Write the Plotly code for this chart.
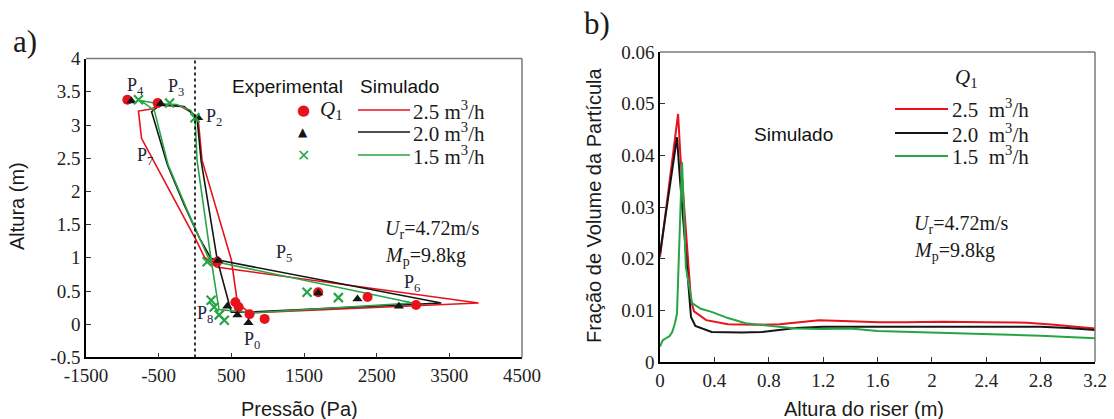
import plotly.graph_objects as go

# ---------------- Panel a: pressure profile ----------------
# Simulated loops (Pa, m)
sim_red_p = [42, 97, 500, 584, 750, 3903, 292, 130, 14, -736, -778, -600, -514, -200, -60, 42]
sim_red_h = [3.11, 2.47, 0.97, 0.32, 0.17, 0.32, 0.86, 1.01, 1.27, 2.80, 3.21, 3.24, 3.30, 3.28, 3.20, 3.11]
sim_black_p = [28, 83, 306, 500, 681, 3389, 300, 220, 60, -150, -380, -520, -597, -472, -150, 28]
sim_black_h = [3.11, 2.47, 0.97, 0.18, 0.18, 0.32, 0.97, 0.99, 1.30, 1.80, 2.40, 2.90, 3.20, 3.31, 3.28, 3.11]
sim_green_p = [0, 28, 222, 330, 792, 3000, 200, -100, -370, -480, -560, -750, -500, -250, -60, 0]
sim_green_h = [3.11, 2.47, 0.97, 0.22, 0.17, 0.32, 0.96, 1.70, 2.40, 2.90, 3.22, 3.37, 3.32, 3.31, 3.22, 3.11]

# Experimental points
exp_red_p = [-931, -514, 306, 556, 600, 750, 958, 1695, 2375, 3042]
exp_red_h = [3.38, 3.33, 0.94, 0.33, 0.26, 0.15, 0.08, 0.48, 0.41, 0.29]
exp_black_p = [-875, -472, 42, 320, 445, 584, 736, 1695, 2236, 2806]
exp_black_h = [3.36, 3.32, 3.11, 0.96, 0.27, 0.14, 0.02, 0.47, 0.38, 0.27]
exp_green_p = [-778, -350, 0, 167, 222, 264, 333, 403, 1542, 1973]
exp_green_h = [3.38, 3.33, 3.11, 0.94, 0.36, 0.26, 0.14, 0.06, 0.48, 0.40]

# Point labels
pt_names = ["4", "3", "2", "7", "5", "6", "8", "0"]
pt_p = [-825, -257, 256, -689, 1229, 2985, 135, 783]
pt_h = [3.58, 3.57, 3.11, 2.52, 1.07, 0.62, 0.15, -0.24]

a_xticks = [-1500, -500, 500, 1500, 2500, 3500, 4500]
a_yticks = [-0.5, 0, 0.5, 1, 1.5, 2, 2.5, 3, 3.5, 4]
a_ytext = ["-0.5", "0", "0.5", "1", "1.5", "2", "2.5", "3", "3.5", "4"]

# ---------------- Panel b: particle volume fraction ----------------
b_red_x = [0, 0.133, 0.15, 0.228, 0.25, 0.34, 0.5, 0.7, 0.88, 1.0, 1.17, 1.4, 1.61, 1.8, 2.08, 2.4, 2.7, 2.9, 3.05, 3.2]
b_red_y = [0.0203, 0.048, 0.040, 0.012, 0.0098, 0.0081, 0.0073, 0.0072, 0.0073, 0.0076, 0.0081, 0.0079, 0.0077, 0.0077, 0.0078, 0.0077, 0.0076, 0.0072, 0.0069, 0.0065]
b_black_x = [0, 0.125, 0.145, 0.228, 0.26, 0.38, 0.6, 0.75, 1.0, 1.2, 1.6, 2.0, 2.4, 2.8, 3.0, 3.2]
b_black_y = [0.021, 0.0435, 0.036, 0.0087, 0.007, 0.0058, 0.0057, 0.0058, 0.0066, 0.0068, 0.0068, 0.0068, 0.0068, 0.0068, 0.0066, 0.0062]
b_green_x = [0, 0.02, 0.044, 0.07, 0.09, 0.11, 0.125, 0.14, 0.162, 0.175, 0.19, 0.236, 0.3, 0.38, 0.5, 0.63, 0.88, 1.0, 1.2, 1.4, 1.6, 2.0, 2.4, 2.8, 3.2]
b_green_y = [0.003, 0.0042, 0.0046, 0.005, 0.0058, 0.0075, 0.0094, 0.02, 0.0387, 0.03, 0.0184, 0.0114, 0.0103, 0.0097, 0.0085, 0.0075, 0.0068, 0.0065, 0.0064, 0.0065, 0.006, 0.0057, 0.0055, 0.0051, 0.0046]

b_xticks = [0, 0.4, 0.8, 1.2, 1.6, 2.0, 2.4, 2.8, 3.2]
b_xtext = ["0", "0.4", "0.8", "1.2", "1.6", "2", "2.4", "2.8", "3.2"]
b_yticks = [0, 0.01, 0.02, 0.03, 0.04, 0.05, 0.06]
b_ytext = ["0", "0.01", "0.02", "0.03", "0.04", "0.05", "0.06"]

flow_labels = ["2.5", "2.0", "1.5"]

RED = "#e8121c"
BLACK = "#151515"
GREEN = "#27a546"
SERIF = "Liberation Serif"
SANS = "Liberation Sans"
W, H = 1114, 419


def px(x):
    return x / W


def py(y):
    return 1 - y / H


fig = go.Figure()

for xs, ys, c in [(sim_red_p, sim_red_h, RED), (sim_black_p, sim_black_h, BLACK), (sim_green_p, sim_green_h, GREEN)]:
    fig.add_trace(go.Scatter(x=xs, y=ys, mode="lines", line=dict(color=c, width=1.6),
                             xaxis="x", yaxis="y", showlegend=False, hoverinfo="skip"))

fig.add_trace(go.Scatter(x=exp_red_p, y=exp_red_h, mode="markers",
                         marker=dict(symbol="circle", size=10, color=RED),
                         xaxis="x", yaxis="y", showlegend=False))
fig.add_trace(go.Scatter(x=exp_black_p, y=exp_black_h, mode="markers",
                         marker=dict(symbol="triangle-up", size=9, color=BLACK),
                         xaxis="x", yaxis="y", showlegend=False))
fig.add_trace(go.Scatter(x=exp_green_p, y=exp_green_h, mode="markers",
                         marker=dict(symbol="x-thin", size=9, color=GREEN, line=dict(color=GREEN, width=2.2)),
                         xaxis="x", yaxis="y", showlegend=False))

for xs, ys, c in [(b_red_x, b_red_y, RED), (b_black_x, b_black_y, BLACK), (b_green_x, b_green_y, GREEN)]:
    fig.add_trace(go.Scatter(x=xs, y=ys, mode="lines", line=dict(color=c, width=2),
                             xaxis="x2", yaxis="y2", showlegend=False, hoverinfo="skip"))

tickfont = dict(family=SERIF, size=19, color="#222222")
axis_common = dict(showgrid=False, zeroline=False, ticks="inside", ticklen=5, tickwidth=1.2,
                   tickcolor="#333333", showline=True, linecolor="black", linewidth=1.6,
                   mirror=False, tickfont=tickfont, automargin=False)

fig.update_layout(
    template="none",
    width=W, height=H, margin=dict(l=0, r=0, t=0, b=0, pad=0),
    paper_bgcolor="white", plot_bgcolor="white",
    xaxis=dict(domain=[px(86), px(522)], range=[-1500, 4500], tickvals=a_xticks,
               ticktext=[str(v) for v in a_xticks], anchor="y", **axis_common),
    yaxis=dict(domain=[py(357.4), py(58.6)], range=[-0.5, 4], tickvals=a_yticks,
               ticktext=a_ytext, anchor="x", **axis_common),
    xaxis2=dict(domain=[px(660), px(1095)], range=[0, 3.2], tickvals=b_xticks,
                ticktext=b_xtext, anchor="y2", **axis_common),
    yaxis2=dict(domain=[py(362), py(52)], range=[0, 0.06], tickvals=b_yticks,
                ticktext=b_ytext, anchor="x2", **axis_common),
)

shapes = []
# frame top/right in gray
for xr, yr in [("x domain", "y domain"), ("x2 domain", "y2 domain")]:
    shapes.append(dict(type="line", xref=xr, yref=yr, x0=0, x1=1, y0=1, y1=1,
                       line=dict(color="#7a7a7a", width=1.5)))
    shapes.append(dict(type="line", xref=xr, yref=yr, x0=1, x1=1, y0=0, y1=1,
                       line=dict(color="#7a7a7a", width=1.5)))
# dotted zero-pressure line
shapes.append(dict(type="line", xref="x", yref="y domain", x0=0, x1=0, y0=0, y1=1,
                   line=dict(color="black", width=1.6, dash="dot")))

# legend lines panel a
for yy, c in zip([110, 132, 155], [RED, BLACK, GREEN]):
    shapes.append(dict(type="line", xref="paper", yref="paper", x0=px(358), x1=px(410),
                       y0=py(yy), y1=py(yy), line=dict(color=c, width=1.6)))
# legend lines panel b
for yy, c in zip([109, 133, 156], [RED, BLACK, GREEN]):
    shapes.append(dict(type="line", xref="paper", yref="paper", x0=px(895), x1=px(948),
                       y0=py(yy), y1=py(yy), line=dict(color=c, width=2)))
fig.update_layout(shapes=shapes)

ann = []


def A(text, x, y, size, family=SERIF, color="#1a1a1a", xanchor="center", yanchor="middle",
      xref="paper", yref="paper", textangle=0):
    ann.append(dict(text=text, x=x, y=y, xref=xref, yref=yref, showarrow=False,
                    font=dict(family=family, size=size, color=color),
                    xanchor=xanchor, yanchor=yanchor, textangle=textangle))


# panel labels
A("a)", px(25), py(42), 31)
A("b)", px(597), py(23), 31)

# axis titles
A("Altura (m)", px(17), py(206), 20, family=SANS, textangle=-90)
A("Pressão (Pa)", px(299), py(409), 20, family=SANS)
A("Fração de Volume da Partícula", px(594), py(206), 20, family=SANS, textangle=-90)
A("Altura do riser (m)", px(864), py(409), 20, family=SANS)

# point labels panel a
for n, xv, yv in zip(pt_names, pt_p, pt_h):
    A("P<sub>%s</sub>" % n, xv, yv, 18, color="#1f2433", xref="x", yref="y")

# panel a legend
A("Experimental", px(287), py(86), 19, family=SANS, color="#111111")
A("Simulado", px(399), py(86), 19, family=SANS, color="#111111")
A("●", px(303), py(110), 15, family="DejaVu Sans", color=RED)
A("▲", px(303), py(132), 12, family="DejaVu Sans", color=BLACK)
A("✕", px(303), py(155), 16, family="DejaVu Sans", color=GREEN)
A("<i>Q</i><sub>1</sub>", px(331), py(110), 21)
for yy, lab in zip([110, 132, 155], flow_labels):
    A(lab + " m<sup>3</sup>/h", px(411), py(yy), 21, xanchor="left")

A("<i>U</i><sub>r</sub>=4.72m/s", px(383), py(229), 20, xanchor="left")
A("<i>M</i><sub>p</sub>=9.8kg", px(383), py(256), 20, xanchor="left")

# panel b legend
A("<i>Q</i><sub>1</sub>", px(966), py(78), 21)
for yy, lab in zip([109, 133, 156], flow_labels):
    A(lab + "  m<sup>3</sup>/h", px(950), py(yy), 21, xanchor="left")
A("Simulado", px(793), py(134), 19, family=SANS, color="#111111")
A("<i>U</i><sub>r</sub>=4.72m/s", px(912), py(224), 20, xanchor="left")
A("<i>M</i><sub>p</sub>=9.8kg", px(912), py(251), 20, xanchor="left")

fig.update_layout(annotations=ann)

fig.write_html("out.html", config={"displayModeBar": False},
               post_script="document.body.style.margin='0';document.body.style.overflow='hidden';")
